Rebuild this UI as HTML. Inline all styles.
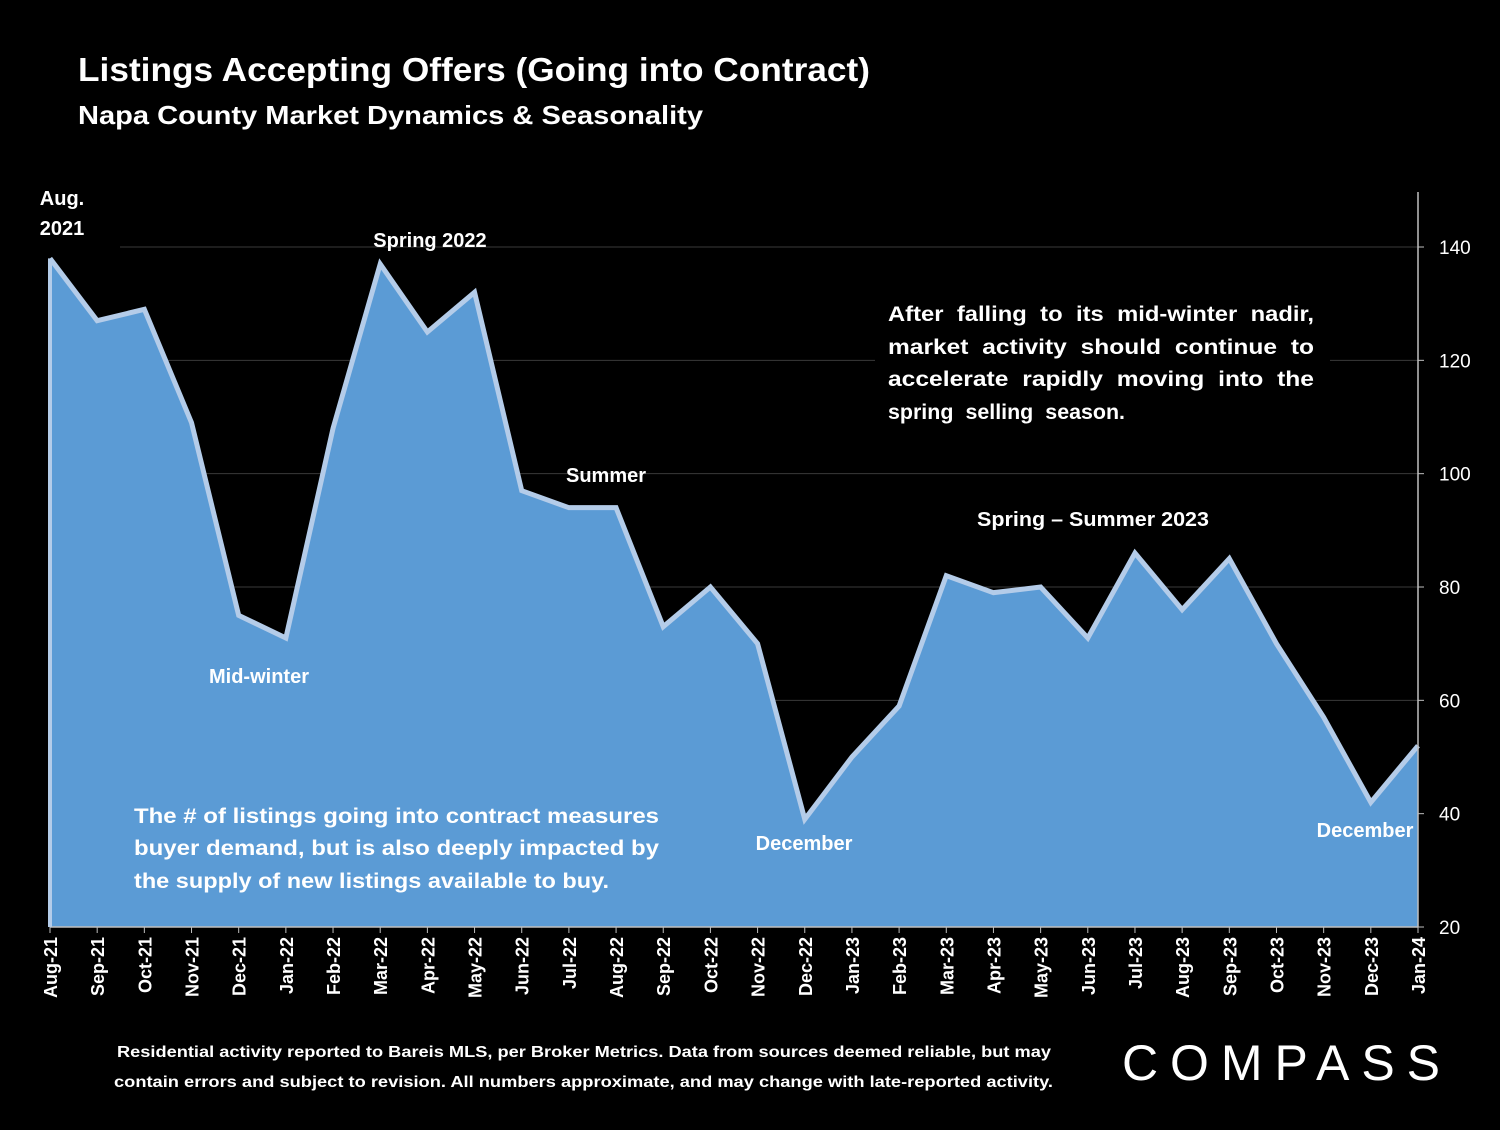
<!DOCTYPE html>
<html><head><meta charset="utf-8"><style>
body{margin:0;background:#000;width:1500px;height:1125px;overflow:hidden;font-family:"Liberation Sans",sans-serif;color:#fff}
svg text{font-family:"Liberation Sans",sans-serif;fill:#fff;font-weight:bold}
</style></head><body>
<svg id="chart" width="1500" height="1125" xmlns="http://www.w3.org/2000/svg">
<text x="78" y="81" font-size="33" textLength="792" lengthAdjust="spacingAndGlyphs">Listings Accepting Offers (Going into Contract)</text>
<text x="78" y="124" font-size="26" textLength="625" lengthAdjust="spacingAndGlyphs">Napa County Market Dynamics &amp; Seasonality</text>
<g id="grid"></g>
<g id="area"></g>
<g id="axes"></g>
<g font-size="20">
<text x="62" y="205" text-anchor="middle">Aug.</text>
<text x="62" y="235" text-anchor="middle">2021</text>
<text x="430" y="247" text-anchor="middle">Spring 2022</text>
<text x="259" y="683" text-anchor="middle">Mid-winter</text>
<text x="606" y="482" text-anchor="middle">Summer</text>
<text x="804" y="850" text-anchor="middle">December</text>
<text x="1093" y="526" text-anchor="middle" textLength="232" lengthAdjust="spacingAndGlyphs">Spring – Summer 2023</text>
<text x="1365" y="837" text-anchor="middle">December</text>
</g>
<rect x="875" y="292" width="455" height="140" fill="#000"/>
<g font-size="21" word-spacing="6">
<text x="888" y="321" textLength="426" lengthAdjust="spacingAndGlyphs">After falling to its mid-winter nadir,</text>
<text x="888" y="354" textLength="426" lengthAdjust="spacingAndGlyphs">market activity should continue to</text>
<text x="888" y="386" textLength="426" lengthAdjust="spacingAndGlyphs">accelerate rapidly moving into the</text>
<text x="888" y="419" textLength="237" lengthAdjust="spacingAndGlyphs">spring selling season.</text>
</g>
<g font-size="21">
<text x="134" y="823" textLength="525" lengthAdjust="spacingAndGlyphs">The # of listings going into contract measures</text>
<text x="134" y="855" textLength="525" lengthAdjust="spacingAndGlyphs">buyer demand, but is also deeply impacted by</text>
<text x="134" y="888" textLength="475" lengthAdjust="spacingAndGlyphs">the supply of new listings available to buy.</text>
</g>
<g font-size="16">
<text x="117" y="1057" textLength="934" lengthAdjust="spacingAndGlyphs">Residential activity reported to Bareis MLS, per Broker Metrics. Data from sources deemed reliable, but may</text>
<text x="114" y="1087" textLength="939" lengthAdjust="spacingAndGlyphs">contain errors and subject to revision. All numbers approximate, and may change with late-reported activity.</text>
</g>
<g>
<text x="1122" y="1080" font-size="50" style="font-weight:400" textLength="318" lengthAdjust="spacing">COMPASS</text>
</g>
</svg>
<script>
const categories=["Aug-21","Sep-21","Oct-21","Nov-21","Dec-21","Jan-22","Feb-22","Mar-22","Apr-22","May-22","Jun-22","Jul-22","Aug-22","Sep-22","Oct-22","Nov-22","Dec-22","Jan-23","Feb-23","Mar-23","Apr-23","May-23","Jun-23","Jul-23","Aug-23","Sep-23","Oct-23","Nov-23","Dec-23","Jan-24"];
const values=[138,127,129,109,75,71,108,137,125,132,97,94,94,73,80,70,39,50,59,82,79,80,71,86,76,85,70,57,42,52];
const yTicks=[20,40,60,80,100,120,140];
const NS="http://www.w3.org/2000/svg";
const x0=50,x1=1418,yb=927,yt=247;
const xs=i=>x0+(x1-x0)*i/(categories.length-1);
const ys=v=>yb-(v-20)*(yb-yt)/120;
function mk(t,a,p){const e=document.createElementNS(NS,t);for(const k in a)e.setAttribute(k,a[k]);p.appendChild(e);return e;}
const grid=document.getElementById('grid'),area=document.getElementById('area'),axes=document.getElementById('axes');
yTicks.forEach(v=>{if(v===20)return;const l=mk('line',{x1:120,x2:x1,y1:ys(v),y2:ys(v),stroke:'#3a3a3a','stroke-width':1},grid);

});
let d='M'+xs(0)+','+yb;values.forEach((v,i)=>d+=' L'+xs(i)+','+ys(v));d+=' L'+xs(values.length-1)+','+yb+' Z';
const a=mk('path',{d:d,fill:'#5b9bd5'},area);


let ld='';values.forEach((v,i)=>ld+=(i?' L':'M')+xs(i)+','+ys(v));
const ln=mk('path',{d:ld,fill:'none',stroke:'#b4cce9','stroke-width':5,'stroke-linejoin':'miter'},area);


mk('line',{x1:x1,x2:x1,y1:192,y2:yb,stroke:'#bfbfbf','stroke-width':1.5},axes);
mk('line',{x1:x0,x2:x1,y1:yb,y2:yb,stroke:'#bfbfbf','stroke-width':1.5},axes);
mk('line',{x1:x0,x2:x0,y1:ys(values[0]),y2:yb,stroke:'#b4cce9','stroke-width':4},axes);
yTicks.forEach(v=>{mk('line',{x1:x1,x2:x1+6,y1:ys(v),y2:ys(v),stroke:'#bfbfbf'},axes);
const t=mk('text',{x:x1+21,y:ys(v)+7,'font-size':19},axes);t.style.fontWeight='400';t.textContent=v;

});
categories.forEach((c,i)=>{const x=xs(i);mk('line',{x1:x,x2:x,y1:yb,y2:yb+6,stroke:'#bfbfbf'},axes);
const t=mk('text',{x:0,y:0,'font-size':18,'text-anchor':'end',transform:`translate(${x+7},${yb+10}) rotate(-90)`},axes);t.textContent=c;

});
</script>
</body></html>
